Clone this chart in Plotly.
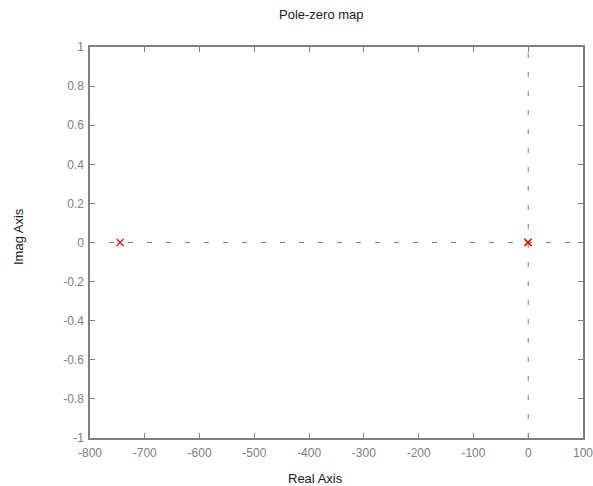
import plotly.graph_objects as go

# Data
pole_real = [-745, -1, 0]
pole_imag = [0, 0, 0]
x_range = [-800, 100]
y_range = [-1, 1]
x_ticks = [-800, -700, -600, -500, -400, -300, -200, -100, 0, 100]
x_ticktext = ["-800", "-700", "-600", "-500", "-400", "-300", "-200", "-100", "0", "100"]
y_ticks = [-1, -0.8, -0.6, -0.4, -0.2, 0, 0.2, 0.4, 0.6, 0.8, 1]
y_ticktext = ["-1", "-0.8", "-0.6", "-0.4", "-0.2", "0", "0.2", "0.4", "0.6", "0.8", "1"]

gray = "#808080"
dark = "#1a1a1a"
font = "Liberation Sans, Arial, sans-serif"

fig = go.Figure()
fig.add_trace(go.Scatter(x=x_range, y=[0, 0], mode="lines",
                         line=dict(color=gray, width=1, dash="5px,14px"),
                         hoverinfo="skip", showlegend=False))
fig.add_trace(go.Scatter(x=[0, 0], y=y_range, mode="lines",
                         line=dict(color=gray, width=1, dash="5px,14px"),
                         hoverinfo="skip", showlegend=False))
fig.add_trace(go.Scatter(x=pole_real, y=pole_imag, mode="markers",
                         marker=dict(symbol="x-thin", size=7,
                                     line=dict(width=1.1, color="red"), color="red"),
                         showlegend=False))

W, H = 593, 486
fig.update_layout(
    width=W, height=H,
    margin=dict(l=90, r=10, t=47, b=48, autoexpand=False),
    paper_bgcolor="white", plot_bgcolor="white",
    font=dict(family=font, size=12, color=gray),
    annotations=[
        dict(text="Pole-zero map", xref="paper", yref="paper",
             x=(321 - 90) / 493, y=1 + (47 - 14) / 391, xanchor="center", yanchor="middle",
             showarrow=False, font=dict(family=font, size=13, color=dark)),
        dict(text="Real Axis", xref="paper", yref="paper",
             x=(315 - 90) / 493, y=-(478 - 438) / 391, xanchor="center", yanchor="middle",
             showarrow=False, font=dict(family=font, size=13, color=dark)),
        dict(text="Imag Axis", xref="paper", yref="paper", textangle=-90,
             x=-(90 - 18) / 493, y=(438 - 237) / 391, xanchor="center", yanchor="middle",
             showarrow=False, font=dict(family=font, size=13, color=dark)),
    ],
)
fig.update_xaxes(range=x_range, tickvals=x_ticks, ticktext=x_ticktext, ticks="inside", ticklen=5,
                 tickcolor=gray, showline=True, linecolor=gray, linewidth=1.5,
                 mirror="ticks", showgrid=False, zeroline=False, automargin=False,
                 ticklabeloverflow="allow", ticklabelstandoff=3,
                 tickfont=dict(family=font, size=12, color=gray))
fig.update_yaxes(range=y_range, tickvals=y_ticks, ticktext=y_ticktext, ticks="inside", ticklen=5,
                 tickcolor=gray, showline=True, linecolor=gray, linewidth=1.5,
                 mirror="ticks", showgrid=False, zeroline=False, automargin=False,
                 ticklabeloverflow="allow", ticklabelstandoff=2,
                 tickfont=dict(family=font, size=12, color=gray))
fig.write_html("out.html")
